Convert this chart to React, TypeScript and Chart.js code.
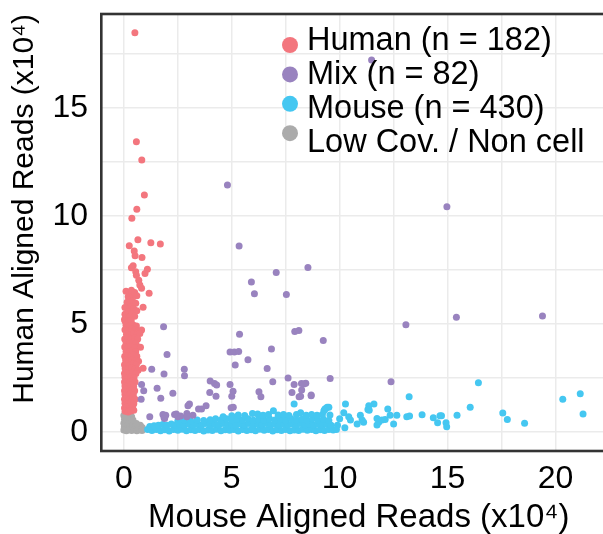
import React, { useEffect, useRef } from "react";
import { Chart, registerables } from "chart.js";

Chart.register(...registerables);

type Pt = [number, number];

// Human-aligned cells (x = mouse reads x10^4, y = human reads x10^4)
const humanPoints: Pt[] = [
  [0.51, 18.47], [0.58, 13.43], [0.83, 12.58], [0.95, 10.96], [0.6, 10.3], [0.37, 9.88],
  [0.65, 8.89], [0.25, 8.61], [1.25, 8.75], [1.69, 8.69], [0.48, 8.37], [0.52, 8.15], [0.84, 8.07],
  [0.43, 7.69], [0.35, 7.59], [0.55, 7.41], [0.58, 7.25], [1.09, 7.52], [0.98, 7.33],
  [0.69, 7.02], [0.74, 6.79], [0.82, 6.64], [1.17, 6.41], [0.25, 6.41], [0.2, 6.25], [0.28, 6.1], [0.43, 6.33],
  [0.89, 5.76], [0.05, 5.44], [0.12, 5.25],
  [0.1, 6.5], [0.35, 6.55], [0.5, 6.45], [0.6, 6.3], [0.15, 6.0], [0.4, 6.05], [0.55, 5.95], [0.3, 5.8],
  [0.05, 5.75], [0.45, 5.7], [0.6, 5.6], [0.2, 5.55], [0.35, 5.45], [0.5, 5.35], [0.25, 5.3], [0.03, 5.2],
  [0.06, 5.12], [0.2, 5.08], [0.34, 5.15],
  [0.1, 4.93], [0.25, 4.88], [0.42, 4.95], [0.58, 4.9],
  [0.05, 4.72], [0.2, 4.68], [0.36, 4.75], [0.52, 4.7], [0.82, 4.71], [0.66, 4.66],
  [0.12, 4.52], [0.28, 4.48], [0.45, 4.55], [0.62, 4.5], [0.74, 4.55],
  [0.04, 4.3], [0.18, 4.33], [0.34, 4.28], [0.5, 4.35], [0.64, 4.3],
  [0.1, 4.12], [0.26, 4.08], [0.42, 4.15], [0.56, 4.1],
  [0.04, 3.92], [0.18, 3.88], [0.34, 3.95], [0.5, 3.9], [0.77, 3.91],
  [0.1, 3.72], [0.25, 3.68], [0.4, 3.75], [0.55, 3.7],
  [0.04, 3.5], [0.16, 3.53], [0.32, 3.48], [0.46, 3.55], [0.6, 3.5],
  [0.08, 3.32], [0.22, 3.28], [0.38, 3.35], [0.52, 3.3], [0.68, 3.27],
  [0.03, 3.1], [0.14, 3.13], [0.3, 3.08], [0.44, 3.15], [0.58, 3.1],
  [0.06, 2.92], [0.2, 2.88], [0.36, 2.95], [0.5, 2.9], [0.89, 2.94], [0.66, 2.85],
  [0.03, 2.7], [0.12, 2.73], [0.28, 2.68], [0.42, 2.75], [0.56, 2.7],
  [0.05, 2.52], [0.18, 2.48], [0.33, 2.55], [0.47, 2.5],
  [0.03, 2.3], [0.12, 2.33], [0.26, 2.28], [0.4, 2.35], [0.52, 2.3],
  [0.05, 2.12], [0.17, 2.08], [0.31, 2.15], [0.45, 2.1],
  [0.03, 1.9], [0.1, 1.93], [0.24, 1.88], [0.38, 1.95], [0.5, 1.9],
  [0.05, 1.72], [0.16, 1.68], [0.3, 1.75], [0.44, 1.7],
  [0.03, 1.5], [0.11, 1.53], [0.25, 1.48], [0.4, 1.55], [0.52, 1.5],
  [0.05, 1.32], [0.18, 1.28], [0.32, 1.35], [0.46, 1.3],
  [0.03, 1.1], [0.13, 1.13], [0.27, 1.08], [0.4, 1.12],
  [0.06, 0.95], [0.2, 0.92], [0.46, 1.0], [0.33, 0.96],
];

// Mixed (doublet) cells
const mixPoints: Pt[] = [
  [11.48, 17.21], [4.8, 11.42], [14.97, 10.42], [5.34, 8.6],
  [8.53, 7.6], [7.06, 7.37], [5.91, 6.93], [6.05, 6.39], [7.53, 6.36],
  [1.84, 4.86], [5.36, 4.52], [7.92, 4.64], [8.11, 4.69], [9.24, 4.23],
  [13.07, 4.96], [15.41, 5.3], [19.4, 5.36],
  [2.0, 3.58], [4.92, 3.69], [5.12, 3.69], [5.32, 3.72], [6.84, 3.83], [5.75, 3.33], [5.16, 3.09],
  [6.64, 2.93], [1.29, 2.9], [2.8, 2.9], [2.81, 2.59], [1.86, 2.67], [7.61, 2.49], [9.56, 2.47],
  [6.9, 2.31], [4.0, 2.35], [4.2, 2.24], [4.3, 2.16], [4.92, 2.19], [7.89, 2.19], [8.23, 2.24],
  [8.43, 2.25], [0.82, 2.19], [0.92, 1.9], [1.54, 2.01], [2.27, 1.78], [3.98, 1.82], [5.06, 1.88],
  [5.0, 1.64], [6.26, 1.85], [6.35, 1.62], [7.79, 1.82], [8.12, 1.62], [8.68, 1.67], [0.8, 1.51],
  [1.71, 1.55], [4.27, 1.65], [3.04, 1.28], [2.97, 1.2], [3.81, 1.2], [3.6, 1.05], [3.46, 1.05],
  [4.97, 1.11], [5.07, 1.13], [1.2, 0.69], [1.81, 0.8], [1.86, 0.65], [2.35, 0.8], [2.5, 0.69],
  [1.94, 0.77], [1.89, 0.62], [2.43, 0.82], [2.63, 0.73], [2.92, 0.85], [2.92, 0.69], [3.2, 0.77],
  [12.38, 2.31], [8.34, 2.21], [8.24, 1.93], [8.19, 1.65], [8.68, 1.7],
];

// Mouse-aligned cells
const mousePoints: Pt[] = [
  [1.1, 0.1], [1.3, 0.06], [1.5, 0.11], [1.7, 0.05], [1.9, 0.09], [2.1, 0.04], [2.3, 0.1], [2.5, 0.07],
  [2.7, 0.12], [2.9, 0.05], [3.1, 0.09], [3.3, 0.06], [3.5, 0.11], [3.7, 0.04], [3.9, 0.08], [4.1, 0.06],
  [4.3, 0.12], [4.5, 0.05], [4.7, 0.09], [4.9, 0.07], [5.1, 0.11], [5.3, 0.04], [5.5, 0.1], [5.7, 0.06],
  [5.9, 0.09], [6.1, 0.05], [6.3, 0.12], [6.5, 0.07], [6.7, 0.1], [6.9, 0.04], [7.1, 0.09], [7.3, 0.06],
  [7.5, 0.11], [7.7, 0.05], [7.9, 0.08], [8.1, 0.06], [8.3, 0.12], [8.5, 0.07], [8.7, 0.1], [8.9, 0.05],
  [9.1, 0.09], [9.3, 0.06], [9.5, 0.11], [9.7, 0.08],
  [1.2, 0.24], [1.4, 0.28], [1.6, 0.3], [1.8, 0.34], [2.0, 0.3], [2.2, 0.36], [2.4, 0.31], [2.6, 0.35],
  [2.8, 0.3], [3.0, 0.37], [3.2, 0.32], [3.4, 0.36], [3.6, 0.3], [3.8, 0.38], [4.0, 0.33], [4.2, 0.36],
  [4.4, 0.31], [4.6, 0.38], [4.8, 0.33], [5.0, 0.36], [5.2, 0.3], [5.4, 0.37], [5.6, 0.32], [5.8, 0.38],
  [6.0, 0.3], [6.2, 0.36], [6.4, 0.33], [6.6, 0.38], [6.8, 0.31], [7.0, 0.35], [7.2, 0.3], [7.4, 0.37],
  [7.6, 0.32], [7.8, 0.36], [8.0, 0.3], [8.2, 0.38], [8.4, 0.33], [8.6, 0.36], [8.8, 0.3], [9.0, 0.35],
  [9.2, 0.31], [9.4, 0.37], [9.6, 0.3],
  [2.5, 0.5], [2.8, 0.54], [3.1, 0.5], [3.4, 0.55], [3.7, 0.52], [4.0, 0.56], [4.25, 0.6], [4.5, 0.55],
  [4.75, 0.6], [5.0, 0.54], [5.25, 0.58], [5.5, 0.55], [5.75, 0.6], [6.0, 0.53], [6.25, 0.58], [6.5, 0.55],
  [6.75, 0.6], [7.0, 0.54], [7.25, 0.58], [7.5, 0.53], [7.75, 0.6], [8.0, 0.55], [8.25, 0.58], [8.5, 0.53],
  [8.75, 0.6], [9.0, 0.55], [9.25, 0.58], [9.5, 0.52],
  [4.6, 0.7], [5.0, 0.74], [5.3, 0.78], [5.6, 0.75], [5.96, 0.85], [6.2, 0.82], [6.45, 0.76], [6.7, 0.8],
  [6.93, 0.97], [7.15, 0.78], [7.4, 0.8], [7.65, 0.75], [7.89, 1.28], [8.0, 0.8], [8.19, 0.88], [8.45, 0.77],
  [8.7, 0.8], [8.95, 0.76], [9.2, 0.8], [9.35, 1.08], [9.5, 1.13], [9.42, 1.13], [9.31, 1.04], [9.27, 0.97],
  [9.55, 0.78],
  [9.9, 0.3], [10.0, 0.6], [9.85, 0.1],
  [10.27, 1.28], [10.19, 0.88], [10.42, 0.69], [10.5, 0.54], [10.24, 0.19], [10.96, 0.77], [11.04, 0.54],
  [10.81, 0.36], [11.11, 0.44], [11.59, 1.28], [11.35, 1.2], [11.37, 1.0], [11.31, 1.03], [11.73, 0.62],
  [11.81, 0.44], [11.96, 0.54], [11.73, 0.31], [12.11, 0.57], [12.65, 0.77], [12.5, 0.36], [12.34, 0.77],
  [12.23, 1.05], [13.11, 0.69], [13.24, 0.73], [13.22, 1.62], [13.82, 0.79], [14.72, 0.74], [14.65, 0.74],
  [14.34, 0.65], [14.54, 0.42], [14.93, 0.42], [14.96, 0.23], [15.44, 0.77], [16.05, 1.13], [16.43, 2.27],
  [17.56, 0.87], [17.77, 0.57], [18.57, 0.39], [20.34, 1.5], [21.15, 1.76], [21.28, 0.82],
];

// Low coverage / non-cell barcodes
const lowCovPoints: Pt[] = [
  [0.0, 0.75], [0.12, 0.77], [0.24, 0.72], [0.36, 0.7], [0.03, 0.58], [0.15, 0.6], [0.28, 0.55],
  [0.0, 0.4], [0.1, 0.43], [0.22, 0.38], [0.34, 0.42], [0.46, 0.36], [0.02, 0.22], [0.14, 0.25],
  [0.27, 0.2], [0.4, 0.24], [0.52, 0.27], [0.64, 0.22], [0.76, 0.3], [0.85, 0.2], [0.0, 0.08],
  [0.12, 0.05], [0.24, 0.1], [0.36, 0.06], [0.48, 0.1], [0.6, 0.05], [0.72, 0.09], [0.84, 0.06],
  [0.58, 0.38], [0.42, 0.55], [0.06, 0.9],
];

const seriesLabels = ["Human (n = 182)", "Mix (n = 82)", "Mouse (n = 430)", "Low Cov. / Non cell"];
const seriesColors = ["#F3767E", "#9983BF", "#45C7F1", "#ABABAB"];

const xGridValues = [0, 2.5, 5, 7.5, 10, 12.5, 15, 17.5, 20, 22.5];
const yGridValues = [0, 2.5, 5, 7.5, 10, 12.5, 15, 17.5];
const xLabelValues = [0, 5, 10, 15, 20];
const yLabelValues = [0, 5, 10, 15];

const xTitle = "Mouse Aligned Reads (x10\u2074)";
const yTitle = "Human Aligned Reads (x10\u2074)";

const FONT = '"Liberation Sans", Arial, Helvetica, sans-serif';

const toXY = (pts: Pt[]) => pts.map(([x, y]) => ({ x, y }));

const frameAndLegend = {
  id: "frameAndLegend",
  afterDatasetsDraw(chart: any) {
    const { ctx, chartArea } = chart;
    const { left, top, right, bottom } = chartArea;
    ctx.save();
    ctx.strokeStyle = "#333333";
    ctx.lineWidth = 2.6;
    ctx.strokeRect(left + 0.3, top, right - left, bottom - top);

    ctx.font = `32.5px ${FONT}`;
    ctx.textAlign = "left";
    ctx.textBaseline = "alphabetic";
    const keyX = left + 189;
    const textX = left + 206;
    seriesLabels.forEach((label, i) => {
      ctx.beginPath();
      ctx.arc(keyX, top + 31 + 29.4 * i, 8, 0, Math.PI * 2);
      ctx.fillStyle = seriesColors[i];
      ctx.fill();
      ctx.fillStyle = "#000000";
      ctx.fillText(label, textX, top + 36 + 34.1 * i);
    });
    ctx.restore();
  },
};

export default function App() {
  const canvasRef = useRef<HTMLCanvasElement | null>(null);

  useEffect(() => {
    document.body.style.margin = "0";
    const canvas = canvasRef.current;
    if (!canvas) return;

    const makeDs = (label: string, pts: Pt[], color: string) => ({
      label,
      data: toXY(pts),
      backgroundColor: color,
      borderWidth: 0,
      pointRadius: 3.5,
      pointHoverRadius: 3.5,
    });

    const chart = new Chart(canvas, {
      type: "scatter",
      data: {
        datasets: [
          makeDs(seriesLabels[1], mixPoints, seriesColors[1]),
          makeDs(seriesLabels[0], humanPoints, seriesColors[0]),
          makeDs(seriesLabels[2], mousePoints, seriesColors[2]),
          makeDs(seriesLabels[3], lowCovPoints, seriesColors[3]),
        ],
      },
      options: {
        responsive: false,
        animation: false,
        devicePixelRatio: 1,
        events: [],
        layout: { padding: { left: 0, right: 1, top: 14, bottom: 0 } },
        plugins: {
          legend: { display: false },
          tooltip: { enabled: false },
        },
        scales: {
          x: {
            type: "linear",
            min: -1.06,
            max: 22.83,
            afterBuildTicks: (scale: any) => {
              scale.ticks = xGridValues.map((v) => ({ value: v }));
            },
            afterFit: (scale: any) => {
              scale.height = 83;
              scale.paddingLeft = 0;
              scale.paddingRight = 0;
              scale.paddingTop = 0;
              scale.paddingBottom = 0;
            },
            ticks: {
              autoSkip: false,
              maxRotation: 0,
              padding: 9,
              color: "#000000",
              font: { family: FONT, size: 32 },
              callback: (v: any) => (xLabelValues.includes(Number(v)) ? String(v) : ""),
            },
            grid: { color: "#EBEBEB", lineWidth: 1.5, drawTicks: false },
            border: { display: false },
            title: {
              display: true,
              text: xTitle,
              color: "#000000",
              font: { family: FONT, size: 33, lineHeight: 1.0 },
              padding: { top: 0, bottom: 0 },
            },
          },
          y: {
            type: "linear",
            min: -0.89,
            max: 19.34,
            afterBuildTicks: (scale: any) => {
              scale.ticks = yGridValues.map((v) => ({ value: v }));
            },
            afterFit: (scale: any) => {
              scale.width = 101;
              scale.paddingLeft = 0;
              scale.paddingRight = 0;
              scale.paddingTop = 0;
              scale.paddingBottom = 0;
            },
            ticks: {
              autoSkip: false,
              padding: 13,
              color: "#000000",
              font: { family: FONT, size: 32 },
              callback: (v: any) => (yLabelValues.includes(Number(v)) ? String(v) : ""),
            },
            grid: { color: "#EBEBEB", lineWidth: 1.5, drawTicks: false },
            border: { display: false },
            title: {
              display: true,
              align: "end",
              text: yTitle,
              color: "#000000",
              font: { family: FONT, size: 30 },
              padding: { top: 7, bottom: 0 },
            },
          },
        },
      },
      plugins: [frameAndLegend],
    });

    return () => chart.destroy();
  }, []);

  return (
    <div style={{ width: 603, height: 534, overflow: "hidden", position: "relative" }}>
      <canvas ref={canvasRef} width={620} height={534} style={{ display: "block" }} />
    </div>
  );
}
